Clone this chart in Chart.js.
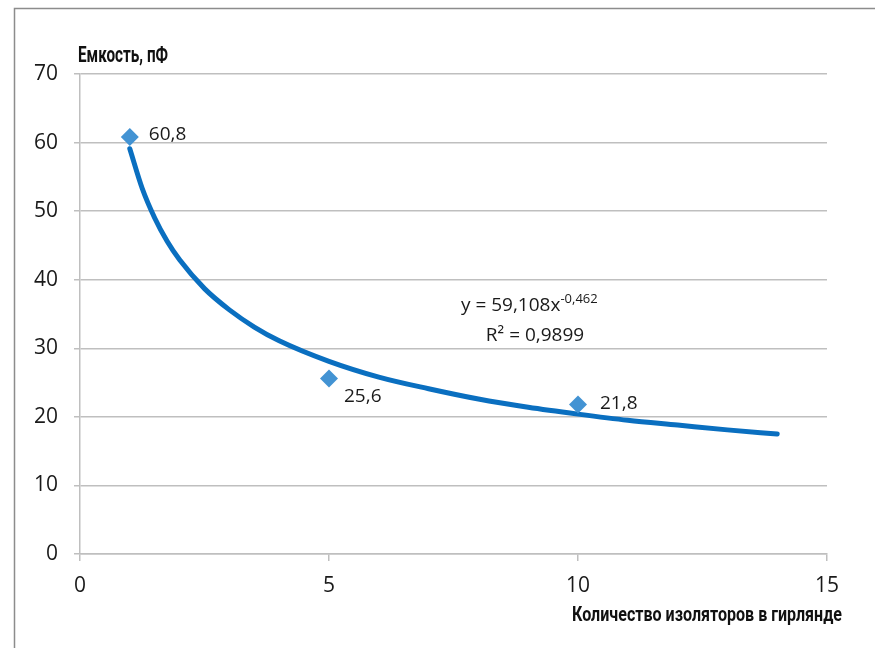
<!DOCTYPE html>
<html>
<head>
<meta charset="utf-8">
<script src="https://cdn.jsdelivr.net/npm/chart.js@4/dist/chart.umd.min.js"></script>
<style>
html,body{margin:0;padding:0;background:#fff;}
#wrap{position:relative;width:875px;height:648px;}
</style>
</head>
<body>
<div id="wrap"><canvas id="c" width="875" height="648"></canvas></div>
<script>
// Measured points
const insulatorCounts = [1, 5, 10];
const capacitance = [60.8, 25.6, 21.8];
const pointLabels = ['60,8', '25,6', '21,8'];
// Power trend line (y = 59,108x^-0,462)
const trendX = [1, 1.25, 1.5, 1.75, 2, 2.5, 3, 3.5, 4, 5, 6, 7, 8, 9, 10, 11, 12, 13, 14];
const trendY = [59.1, 53.3, 49.0, 45.6, 42.9, 38.7, 35.6, 33.1, 31.1, 28.1, 25.8, 24.1, 22.6, 21.4, 20.4, 19.5, 18.8, 18.1, 17.5];
const xTicks = [0, 5, 10, 15];
const yTicks = [0, 10, 20, 30, 40, 50, 60, 70];
const yTitle = 'Емкость, пФ';
const xTitle = 'Количество изоляторов в гирлянде';
const eqMain = 'y = 59,108x';
const eqExp = '-0,462';
const eqR2 = 'R² = 0,9899';

const FONT = "'Open Sans', sans-serif";
const TXT = '#1a1a1a';
const GRID = '#bfbfbf';

function drawCondensed(ctx, text, x, baseline, targetW, size, align) {
  ctx.save();
  ctx.font = "bold " + size + "px 'Roboto', 'DejaVu Sans', sans-serif";
  const w = ctx.measureText(text).width;
  const k = targetW / w;
  const left = align === 'right' ? x - targetW : x;
  ctx.translate(left, baseline);
  ctx.scale(k, 1);
  ctx.fillStyle = '#111';
  ctx.textAlign = 'left';
  ctx.textBaseline = 'alphabetic';
  ctx.fillText(text, 0, 0);
  ctx.restore();
}

const decor = {
  id: 'decor',
  beforeDraw(chart) {
    const ctx = chart.ctx;
    ctx.save();
    ctx.fillStyle = '#fff';
    ctx.fillRect(0, 0, chart.width, chart.height);
    ctx.strokeStyle = '#8c8c8c';
    ctx.lineWidth = 1.5;
    ctx.beginPath();
    ctx.moveTo(14.5, 648);
    ctx.lineTo(14.5, 8.5);
    ctx.lineTo(875, 8.5);
    ctx.stroke();
    ctx.restore();
  },
  afterDatasetsDraw(chart) {
    const ctx = chart.ctx;
    const xs = chart.scales.x, ys = chart.scales.y;
    ctx.save();
    ctx.fillStyle = TXT;
    ctx.font = "500 19px " + FONT;
    ctx.textBaseline = 'alphabetic';
    ctx.textAlign = 'left';
    const offs = [[19, 3], [15, 24], [22, 4]];
    insulatorCounts.forEach((v, i) => {
      const px = xs.getPixelForValue(v), py = ys.getPixelForValue(capacitance[i]);
      ctx.fillText(pointLabels[i], px + offs[i][0], py + offs[i][1]);
    });
    // equation
    const ex = xs.getPixelForValue(7.65), ey = ys.getPixelForValue(35.4);
    ctx.fillText(eqMain, ex, ey);
    const w = ctx.measureText(eqMain).width;
    ctx.font = "500 13px " + FONT;
    ctx.fillText(eqExp, ex + w, ey - 8);
    ctx.font = "500 19px " + FONT;
    ctx.fillText(eqR2, xs.getPixelForValue(8.15), ys.getPixelForValue(31.0));
    // axis titles
    drawCondensed(ctx, yTitle, 78, 62, 90, 22, 'left');
    drawCondensed(ctx, xTitle, 842, 621, 270, 21, 'right');
    ctx.restore();
  }
};

new Chart(document.getElementById('c'), {
  type: 'scatter',
  data: {
    datasets: [
      {
        label: 'points',
        data: insulatorCounts.map((x, i) => ({x: x, y: capacitance[i]})),
        pointStyle: 'rectRot',
        pointRadius: 9,
        pointHoverRadius: 9,
        backgroundColor: '#4393d3',
        borderColor: '#4393d3',
        borderWidth: 0,
        showLine: false,
        order: 0
      },
      {
        label: 'trend',
        data: trendX.map((x, i) => ({x: x, y: trendY[i]})),
        showLine: true,
        borderColor: '#0a6fc0',
        borderWidth: 5,
        borderCapStyle: 'round',
        cubicInterpolationMode: 'monotone',
        pointRadius: 0,
        pointHoverRadius: 0,
        fill: false,
        clip: false,
        order: 1
      }
    ]
  },
  options: {
    responsive: false,
    animation: false,
    devicePixelRatio: 1,
    layout: {padding: {top: 74, right: 48, left: 0, bottom: 0}},
    plugins: {legend: {display: false}, tooltip: {enabled: false}, title: {display: false}},
    scales: {
      x: {
        type: 'linear', min: 0, max: 15,
        afterBuildTicks: s => { s.ticks = xTicks.map(v => ({value: v})); },
        afterFit: s => { s.height = 94; },
        ticks: {color: TXT, font: {family: FONT, size: 21, weight: 500}, padding: 12, maxRotation: 0},
        grid: {drawOnChartArea: false, drawTicks: true, tickLength: 7, color: GRID, lineWidth: 1.5},
        border: {display: true, color: GRID, width: 1.5}
      },
      y: {
        type: 'linear', min: 0, max: 70,
        afterBuildTicks: s => { s.ticks = yTicks.map(v => ({value: v})); },
        afterFit: s => { s.width = 80; },
        ticks: {color: TXT, font: {family: FONT, size: 21, weight: 500}, padding: 16},
        grid: {drawOnChartArea: true, drawTicks: true, tickLength: 6, color: GRID, lineWidth: 1.5},
        border: {display: true, color: GRID, width: 1.5}
      }
    }
  },
  plugins: [decor]
});
</script>
</body>
</html>
